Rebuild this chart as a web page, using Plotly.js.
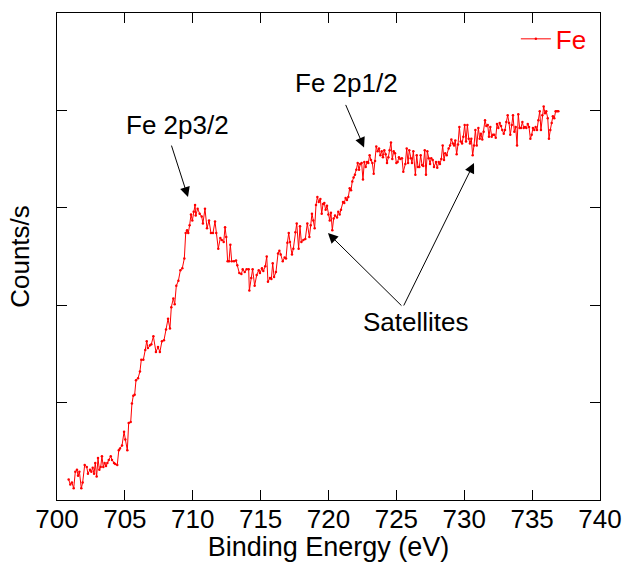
<!DOCTYPE html>
<html>
<head>
<meta charset="utf-8">
<script src="https://cdn.plot.ly/plotly-3.0.1.min.js"></script>
<style>html,body{margin:0;padding:0;background:#fff;}#chart{width:622px;height:562px;}</style>
</head>
<body>
<div id="chart"></div>
<script>
// Binding energy (eV)
const energy = [
700.86,700.98,701.10,701.23,701.35,701.47,701.55,701.65,701.79,701.89,
702.04,702.19,702.28,702.43,702.53,702.63,702.73,702.82,702.92,703.02,
703.12,703.22,703.31,703.41,703.51,703.61,703.71,703.81,703.96,704.05,
704.20,704.29,704.44,704.55,704.64,704.79,704.94,705.03,705.18,705.28,
705.43,705.52,705.62,705.72,705.82,705.97,706.11,706.21,706.36,706.50,
706.61,706.70,706.85,706.95,707.10,707.29,707.44,707.58,707.73,707.88,
708.03,708.18,708.32,708.42,708.57,708.67,708.79,708.94,709.09,709.23,
709.38,709.48,709.58,709.67,709.77,709.87,709.97,710.07,710.17,710.22,
710.36,710.51,710.66,710.75,710.90,711.05,711.20,711.34,711.49,711.64,
711.73,711.88,712.03,712.13,712.28,712.38,712.47,712.57,712.67,712.77,
712.87,713.04,713.19,713.28,713.43,713.58,713.68,713.83,713.97,714.12,
714.17,714.31,714.41,714.56,714.71,714.86,714.95,715.10,715.20,715.34,
715.45,715.54,715.69,715.79,715.89,715.99,716.13,716.28,716.38,716.48,
716.63,716.77,716.87,716.97,717.07,717.16,717.31,717.41,717.56,717.66,
717.80,717.90,718.00,718.15,718.29,718.44,718.59,718.69,718.78,718.88,
718.98,719.08,719.18,719.28,719.40,719.50,719.60,719.69,719.79,719.89,
719.99,720.09,720.18,720.28,720.38,720.48,720.63,720.72,720.82,720.92,
721.07,721.16,721.26,721.36,721.46,721.56,721.66,721.75,721.85,721.95,
722.05,722.15,722.25,722.34,722.44,722.54,722.64,722.74,722.84,722.93,
723.03,723.13,723.23,723.33,723.43,723.52,723.62,723.72,723.82,723.92,
724.01,724.11,724.21,724.31,724.41,724.50,724.60,724.70,724.80,724.90,
725.00,725.09,725.19,725.29,725.41,725.51,725.66,725.76,725.86,725.95,
726.06,726.15,726.25,726.40,726.50,726.59,726.69,726.79,726.89,726.98,
727.09,727.18,727.28,727.38,727.48,727.57,727.68,727.77,727.92,728.01,
728.12,728.21,728.31,728.41,728.51,728.60,728.71,728.85,728.95,729.05,
729.15,729.25,729.34,729.44,729.54,729.64,729.74,729.84,729.93,730.03,
730.13,730.23,730.33,730.42,730.52,730.62,730.72,730.82,730.92,731.04,
731.14,731.23,731.33,731.43,731.53,731.63,731.73,731.82,731.92,732.02,
732.12,732.21,732.32,732.41,732.51,732.61,732.71,732.80,732.91,733.00,
733.10,733.20,733.30,733.39,733.50,733.59,733.69,733.79,733.89,733.98,
734.08,734.18,734.28,734.38,734.47,734.57,734.68,734.77,734.87,734.97,
735.06,735.16,735.26,735.36,735.46,735.56,735.65,735.75,735.85,735.95,
736.04,736.15,736.24,736.34,736.44,736.53,736.63,736.73,736.83,736.93
];
// Counts/s (arbitrary units, one unit per y tick interval)
const counts = [
0.21,0.16,0.18,0.12,0.29,0.31,0.25,0.29,0.12,0.18,
0.36,0.34,0.27,0.31,0.29,0.33,0.27,0.38,0.24,0.43,
0.31,0.34,0.45,0.34,0.38,0.35,0.38,0.41,0.45,0.41,
0.38,0.37,0.36,0.51,0.53,0.56,0.70,0.62,0.51,0.79,
0.80,0.99,1.07,1.08,1.23,1.25,1.32,1.44,1.44,1.54,
1.63,1.56,1.59,1.60,1.68,1.52,1.57,1.52,1.63,1.64,
1.75,1.86,1.76,1.98,2.07,2.01,2.20,2.25,2.36,2.38,
2.48,2.74,2.77,2.74,2.82,2.93,2.87,2.96,3.03,2.92,
2.99,2.94,2.91,2.84,2.99,2.79,2.87,2.74,2.74,2.86,
2.74,2.58,2.69,2.67,2.65,2.80,2.70,2.45,2.45,2.62,
2.45,2.45,2.46,2.41,2.33,2.32,2.37,2.34,2.37,2.37,
2.15,2.28,2.37,2.20,2.31,2.36,2.33,2.38,2.35,2.40,
2.50,2.24,2.28,2.27,2.43,2.29,2.34,2.53,2.56,2.52,
2.45,2.49,2.48,2.64,2.74,2.65,2.52,2.58,2.75,2.84,
2.58,2.81,2.65,2.67,2.68,2.84,2.70,2.82,2.94,2.87,
2.79,3.03,3.11,3.06,3.09,2.94,3.04,3.05,2.98,3.02,
2.93,2.87,2.95,2.77,2.89,2.92,2.90,2.96,2.93,2.98,
3.06,3.05,3.10,3.08,3.11,3.20,3.18,3.27,3.31,3.34,
3.39,3.46,3.39,3.45,3.46,3.29,3.47,3.42,3.47,3.46,
3.54,3.49,3.46,3.35,3.48,3.63,3.58,3.61,3.54,3.58,
3.52,3.59,3.55,3.46,3.52,3.59,3.67,3.50,3.58,3.56,
3.46,3.47,3.52,3.50,3.51,3.37,3.45,3.61,3.46,3.59,
3.51,3.46,3.58,3.34,3.54,3.42,3.42,3.54,3.44,3.43,
3.59,3.34,3.58,3.51,3.45,3.51,3.49,3.42,3.47,3.41,
3.47,3.45,3.50,3.64,3.49,3.56,3.54,3.61,3.64,3.70,
3.66,3.64,3.69,3.55,3.65,3.83,3.68,3.66,3.73,3.85,
3.68,3.85,3.71,3.66,3.71,3.54,3.64,3.80,3.64,3.82,
3.71,3.76,3.70,3.78,3.90,3.84,3.85,3.73,3.83,3.73,
3.75,3.75,3.72,3.86,3.82,3.87,3.84,3.80,3.76,3.80,
3.88,3.95,3.87,3.75,3.85,3.95,3.78,3.83,3.64,3.96,
3.82,3.82,3.88,3.82,3.83,3.82,3.86,3.83,3.71,3.75,
3.82,3.80,3.83,3.80,3.90,3.99,3.80,3.95,4.04,3.97,
3.99,3.92,3.71,3.80,3.87,3.94,3.92,3.99,3.99,3.99
];
const xTickVals = [700,705,710,715,720,725,730,735,740];
const seriesName = "Fe";

const FONT = "Liberation Sans, Arial, sans-serif";

const trace = {
  x: energy, y: counts, name: seriesName,
  type: "scatter", mode: "lines+markers",
  line: {color: "#ff0000", width: 1},
  marker: {color: "#ff0000", size: 2.5},
  showlegend: true
};

function arrow(x, y, ax, ay) {
  return {x: x, y: y, xref: "x", yref: "y", ax: ax, ay: ay, axref: "pixel", ayref: "pixel",
    text: "", showarrow: true, arrowhead: 2, arrowsize: 2, arrowwidth: 1, arrowcolor: "#000", standoff: 0};
}
function label(x, y, t) {
  return {x: x, y: y, xref: "x", yref: "y", text: t, showarrow: false,
    font: {family: FONT, size: 26, color: "#000"}, xanchor: "center", yanchor: "middle"};
}

const layout = {
  width: 622, height: 562,
  margin: {l: 57, r: 22, t: 13, b: 62},
  paper_bgcolor: "#fff", plot_bgcolor: "#fff",
  font: {family: FONT, size: 26, color: "#000"},
  xaxis: {
    range: [700, 740], tickvals: xTickVals, ticktext: xTickVals.map(String),
    ticks: "inside", ticklen: 10, tickwidth: 1, tickcolor: "#000",
    showline: true, linecolor: "#000", linewidth: 1, mirror: "ticks",
    showgrid: false, zeroline: false,
    ticklabelstandoff: -4,
    tickfont: {family: FONT, size: 26, color: "#000"},
    title: {text: "Binding Energy (eV)", font: {family: FONT, size: 27, color: "#000"}, standoff: 18},
    automargin: false
  },
  yaxis: {
    range: [0, 5], dtick: 1, tick0: 0,
    ticks: "inside", ticklen: 10, tickwidth: 1, tickcolor: "#000",
    showline: true, linecolor: "#000", linewidth: 1, mirror: "ticks",
    showgrid: false, zeroline: false, showticklabels: false,
    title: {text: "Counts/s", font: {family: FONT, size: 26, color: "#000"}, standoff: 18},
    automargin: false
  },
  showlegend: true,
  legend: {x: 0.985, y: 0.995, xanchor: "right", yanchor: "top", bgcolor: "rgba(0,0,0,0)",
    font: {family: FONT, size: 26, color: "#ff0000"}, borderwidth: 0},
  annotations: [
    label(708.88, 3.85, "Fe 2p3/2"),
    label(721.33, 4.28, "Fe 2p1/2"),
    label(726.45, 1.83, "Satellites"),
    arrow(709.65, 3.11, -17, -53),
    arrow(722.62, 3.62, -19, -44),
    arrow(719.96, 2.74, 75, 74),
    arrow(730.72, 3.46, -71, 144)
  ]
};

Plotly.newPlot("chart", [trace], layout, {displayModeBar: false, staticPlot: true});
</script>
</body>
</html>
